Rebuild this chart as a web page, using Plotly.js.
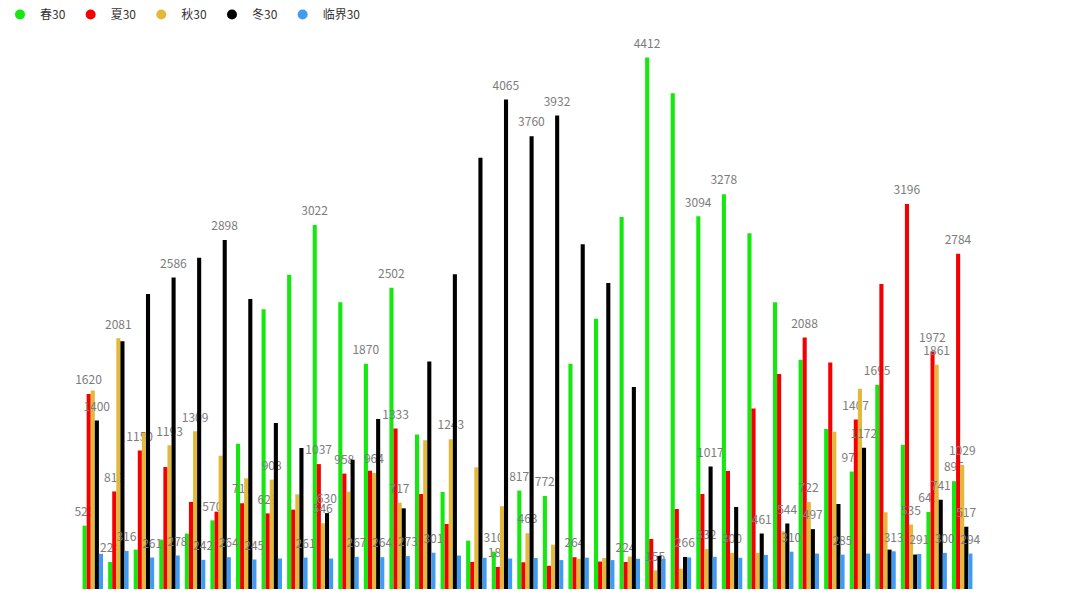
<!DOCTYPE html>
<html>
<head>
<meta charset="utf-8">
<script src="https://cdn.plot.ly/plotly-3.0.1.min.js"></script>
<style>
html,body{margin:0;padding:0;background:#ffffff;}
#chart{width:1080px;height:606px;}
</style>
</head>
<body>
<div id="chart"></div>
<script>
// ---- data ----
const categories = ["1","2","3","4","5","6","7","8","9","10","11","12","13","14","15","16","17","18","19","20","21","22","23","24","25","26","27","28","29","30","31","32","33","34","35"];

const seriesNames = ["春30", "夏30", "秋30", "冬30", "临界30"];

const spring = [526, 224, 327, 410, 460, 570, 1206, 2323, 2610, 3022, 2381, 1870, 2502, 1283, 806, 402, 310, 817, 772, 1871, 2243, 3088, 4412, 4117, 3094, 3278, 2953, 2381, 1903, 1328, 975, 1695, 1198, 640, 895];
const summer = [1620, 810, 1150, 1013, 723, 642, 712, 628, 659, 1037, 958, 982, 1333, 789, 540, 225, 183, 222, 193, 264, 228, 224, 415, 664, 789, 980, 1499, 1786, 2088, 1880, 1407, 2533, 3196, 1972, 2784];
const autumn = [1648, 2081, 1295, 1193, 1309, 1107, 919, 908, 786, 546, 808, 964, 717, 1234, 1243, 1010, 687, 463, 368, 251, 257, 269, 155, 169, 332, 300, 300, 479, 722, 1306, 1662, 637, 535, 1861, 1029];
const winter = [1400, 2058, 2450, 2586, 2751, 2898, 2408, 1378, 1170, 630, 1074, 1411, 670, 1889, 2613, 3580, 4065, 3760, 3932, 2863, 2541, 1678, 275, 266, 1017, 681, 461, 544, 497, 706, 1172, 327, 286, 741, 517];
const critical = [292, 316, 261, 278, 242, 264, 245, 253, 261, 253, 267, 264, 273, 301, 278, 259, 253, 258, 240, 260, 240, 251, 251, 262, 267, 259, 283, 310, 294, 285, 294, 313, 291, 300, 294];

// indices of the bars whose value label is visible in the reference
const springLabelled   = [0, 1, 5, 9, 11, 12, 16, 17, 18, 22, 24, 25, 30, 31, 33, 34];
const summerLabelled   = [0, 1, 2, 6, 7, 9, 10, 12, 16, 19, 21, 28, 30, 32, 33, 34];
const autumnLabelled   = [1, 3, 4, 7, 9, 11, 12, 14, 17, 22, 24, 25, 28, 32, 33, 34];
const winterLabelled   = [0, 3, 5, 9, 16, 17, 18, 23, 24, 26, 27, 28, 30, 33, 34];
const criticalLabelled = [1, 2, 3, 4, 5, 6, 8, 10, 11, 12, 13, 27, 29, 31, 32, 33, 34];

const seriesColors = ["#14e80f", "#f50000", "#e3b93b", "#000000", "#3f9cf2"];

// ---- build traces ----
const allValues = [spring, summer, autumn, winter, critical];
const allLabelled = [springLabelled, summerLabelled, autumnLabelled, winterLabelled, criticalLabelled];

const FONT = '"Noto Sans CJK SC", "Noto Sans", sans-serif';

// label: 12px number, followed by a tiny empty line that lifts it a few px off the bar
function labelText(v) {
  return '<span style="font-size:12px">' + v + '</span><br>\u00a0';
}

const traces = [];
allValues.forEach(function (vals, s) {
  const shown = new Set(allLabelled[s]);
  traces.push({
    type: 'bar',
    name: seriesNames[s],
    x: categories,
    y: vals,
    text: vals.map(function (v, i) { return shown.has(i) ? labelText(v) : ''; }),
    textposition: 'outside',
    textangle: 0,
    constraintext: 'none',
    cliponaxis: false,
    textfont: {family: FONT, size: 6, color: '#7c7c7c'},
    marker: {color: seriesColors[s], line: {width: 0}},
    showlegend: false,
    hoverinfo: 'skip',
    legendgroup: seriesNames[s]
  });
});
// legend entries with round symbols
seriesNames.forEach(function (name, s) {
  traces.push({
    type: 'scatter',
    mode: 'markers',
    name: name,
    x: [null],
    y: [null],
    marker: {symbol: 'circle', size: 10, color: seriesColors[s]},
    showlegend: true,
    hoverinfo: 'skip',
    legendgroup: name
  });
});

const layout = {
  width: 1080,
  height: 606,
  paper_bgcolor: '#ffffff',
  plot_bgcolor: '#ffffff',
  margin: {l: 79.5, r: 104.5, t: 46.5, b: 16.5, pad: 0},
  barmode: 'group',
  bargap: 0.2,
  bargroupgap: 0,
  showlegend: true,
  legend: {
    orientation: 'h',
    xref: 'container', yref: 'container',
    x: 0, y: 1.0, xanchor: 'left', yanchor: 'top',
    font: {family: FONT, size: 12, color: '#333333'},
    itemwidth: 30,
    bgcolor: 'rgba(0,0,0,0)',
    traceorder: 'normal'
  },
  xaxis: {
    type: 'category',
    visible: false,
    showgrid: false,
    zeroline: false,
    fixedrange: true
  },
  yaxis: {
    range: [0, 4500],
    visible: false,
    showgrid: false,
    zeroline: false,
    fixedrange: true
  },
  font: {family: FONT}
};

Plotly.newPlot('chart', traces, layout, {displayModeBar: false, staticPlot: true});
</script>
</body>
</html>
